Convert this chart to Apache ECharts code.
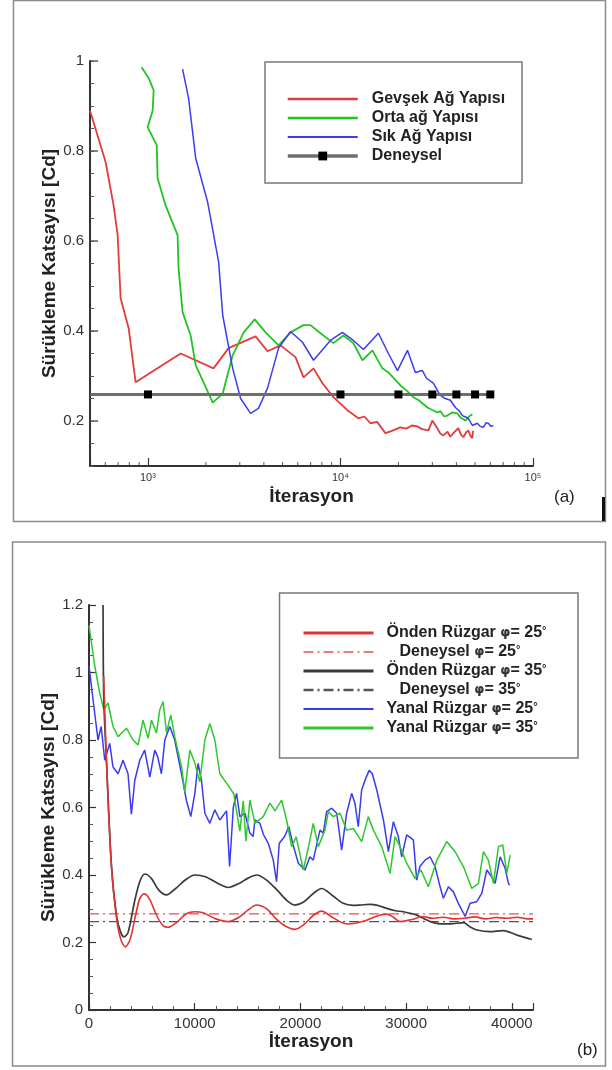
<!DOCTYPE html>
<html>
<head>
<meta charset="utf-8">
<style>
  html, body { margin: 0; padding: 0; background: #fff; }
  #chart { width: 612px; height: 1070px; }
</style>
<script src="https://cdn.jsdelivr.net/npm/echarts@6/dist/echarts.min.js"></script>
</head>
<body>
<div id="chart"></div>
<script>
// ---- panel (a): mesh study, log x axis ----
const gevsek = [
  [500,0.89],[603,0.775],[663,0.679],[696,0.613],[721,0.473],[794,0.406],[863,0.286],[1136,0.319],
  [1479,0.35],[2191,0.317],[2623,0.362],[3623,0.388],[4180,0.355],[4886,0.368],[5838,0.342],[6424,0.297],
  [7244,0.317],[8060,0.284],[9190,0.253],[10860,0.224],[12390,0.206],[13300,0.21],[14310,0.195],[15500,0.198],
  [17110,0.173],[18500,0.178],[20480,0.186],[22000,0.183],[23500,0.19],[25080,0.188],[26500,0.182],[28640,0.179],
  [30000,0.201],[31850,0.184],[33000,0.172],[34220,0.168],[36000,0.176],[37200,0.165],[38560,0.173],[40950,0.184],
  [42200,0.17],[43460,0.164],[45000,0.175],[46140,0.179],[47200,0.168],[48400,0.162],[48800,0.178]
];
const orta = [
  [927,0.986],[1012,0.961],[1071,0.935],[1058,0.89],[996,0.853],[1110,0.813],[1123,0.739],[1235,0.679],
  [1425,0.613],[1442,0.539],[1513,0.442],[1666,0.39],[1770,0.324],[2170,0.241],[2445,0.261],[2755,0.346],
  [3143,0.397],[3583,0.426],[4085,0.397],[4768,0.368],[5504,0.397],[6424,0.413],[6985,0.413],[7870,0.395],
  [9190,0.373],[10350,0.39],[11670,0.373],[13000,0.335],[14650,0.357],[16500,0.317],[17740,0.308],[20480,0.279],
  [22000,0.268],[23930,0.253],[25500,0.246],[28270,0.23],[29500,0.226],[31850,0.219],[33000,0.222],[34500,0.21],
  [35900,0.212],[38000,0.219],[40460,0.217],[42000,0.208],[44560,0.201],[46500,0.21],[48400,0.215]
];
const sik = [
  [1513,0.982],[1626,0.917],[1770,0.784],[2043,0.686],[2329,0.553],[2445,0.435],[2755,0.317],[3029,0.25],
  [3412,0.217],[3750,0.228],[4180,0.273],[4768,0.362],[5504,0.399],[6350,0.375],[7244,0.335],[8870,0.379],
  [10230,0.397],[11670,0.379],[13150,0.359],[15740,0.395],[17740,0.35],[19770,0.312],[22280,0.357],[24490,0.308],
  [26620,0.312],[28000,0.295],[30340,0.284],[33000,0.257],[35000,0.25],[37240,0.246],[39530,0.23],[41500,0.222],
  [42990,0.212],[46140,0.206],[48420,0.19],[51400,0.195],[53300,0.188],[55200,0.186],[57000,0.196],[58600,0.195],
  [60500,0.188],[62200,0.19]
];
const deneyselIter = [500, 1000, 10000, 20000, 30000, 40000, 50000, 60000];
const deneyselCd = 0.259;

// ---- panel (b): wind direction, linear x axis ----
const onden25 = [
  [1390,0.99],[1650,0.74],[2120,0.425],[2590,0.276],[3000,0.21],[3445,0.187],[3900,0.21],[4400,0.28],
  [4800,0.33],[5210,0.344],[5700,0.33],[6400,0.28],[7000,0.25],[7480,0.245],[8300,0.26],[9200,0.285],
  [10010,0.291],[10800,0.288],[12000,0.27],[13160,0.262],[14200,0.275],[15000,0.295],[15850,0.311],[16800,0.3],
  [17700,0.27],[18600,0.248],[19480,0.239],[20400,0.255],[21200,0.28],[22010,0.293],[23000,0.275],[24370,0.255],
  [25300,0.258],[26270,0.266],[27200,0.278],[28160,0.284],[28800,0.275],[29420,0.262],[30680,0.269],[31500,0.277],
  [32500,0.272],[33500,0.275],[34500,0.27],[35500,0.272],[36500,0.276],[37500,0.27],[38500,0.274],[39500,0.272],
  [40500,0.275],[41500,0.27],[42000,0.27]
];
const onden35 = [
  [1330,1.2],[1400,0.92],[1650,0.74],[2120,0.43],[2600,0.28],[3000,0.23],[3320,0.217],[3700,0.23],
  [4300,0.32],[4800,0.38],[5280,0.403],[5900,0.39],[6600,0.355],[7330,0.341],[8200,0.36],[9100,0.385],
  [10010,0.4],[11000,0.395],[12200,0.375],[13160,0.363],[14200,0.375],[15000,0.39],[15850,0.4],[16800,0.385],
  [17800,0.355],[18700,0.325],[19480,0.311],[20300,0.32],[21200,0.345],[22010,0.36],[23000,0.34],[24050,0.316],
  [25000,0.31],[25630,0.311],[26580,0.313],[27300,0.31],[28160,0.301],[29000,0.294],[29740,0.291],[31000,0.281],
  [32000,0.266],[32580,0.259],[33300,0.255],[34160,0.255],[35420,0.259],[36100,0.245],[36690,0.237],[37940,0.232],
  [39200,0.235],[40470,0.222],[41890,0.209]
];
const yanal25 = [
  [0,1.02],[380,0.92],[850,0.8],[1150,0.84],[1490,0.74],[1960,0.79],[2270,0.72],[2750,0.7],
  [3220,0.74],[3690,0.7],[4010,0.58],[4330,0.68],[4800,0.74],[5270,0.77],[5750,0.69],[6220,0.77],
  [6500,0.75],[6850,0.7],[7170,0.8],[7640,0.84],[8110,0.8],[8750,0.7],[9220,0.62],[9630,0.573],
  [10010,0.642],[10320,0.731],[10640,0.68],[10960,0.583],[11430,0.553],[11900,0.593],[12380,0.563],[13010,0.59],
  [13300,0.425],[13650,0.6],[13960,0.642],[14270,0.573],[14750,0.583],[15220,0.524],[15530,0.514],[15690,0.563],
  [16170,0.553],[16500,0.52],[16960,0.494],[17430,0.444],[17740,0.38],[18000,0.494],[18500,0.514],[18900,0.543],
  [19300,0.49],[19800,0.435],[20430,0.415],[20900,0.454],[21210,0.444],[21850,0.533],[22160,0.524],[22480,0.588],
  [22960,0.598],[23430,0.583],[23900,0.474],[24370,0.583],[24850,0.642],[25160,0.612],[25470,0.543],[25790,0.652],
  [26110,0.681],[26500,0.71],[26800,0.7],[27220,0.652],[27850,0.563],[28320,0.469],[28790,0.558],[29260,0.514],
  [29580,0.454],[30050,0.519],[30680,0.504],[31000,0.385],[31300,0.425],[31790,0.444],[32260,0.454],[32740,0.425],
  [33210,0.365],[33520,0.331],[34000,0.365],[34470,0.35],[34940,0.316],[35580,0.277],[36050,0.316],[36680,0.321],
  [37160,0.346],[37630,0.415],[38100,0.395],[38420,0.375],[38890,0.454],[39360,0.42],[39680,0.375],[39800,0.37]
];
const yanal35 = [
  [0,1.14],[540,1.02],[1010,0.94],[1400,0.89],[1800,0.91],[2270,0.84],[2750,0.81],[3540,0.835],
  [4170,0.8],[4640,0.785],[5110,0.859],[5590,0.805],[5910,0.859],[6380,0.82],[6690,0.889],[7010,0.914],
  [7330,0.822],[7740,0.874],[8110,0.81],[8750,0.721],[9060,0.647],[9540,0.77],[10010,0.732],[10480,0.676],
  [10960,0.8],[11430,0.849],[11900,0.8],[12380,0.7],[13320,0.658],[13700,0.64],[14270,0.53],[14590,0.62],
  [14840,0.5],[15220,0.622],[15690,0.553],[16480,0.573],[17110,0.613],[17600,0.59],[18220,0.622],[18690,0.563],
  [19170,0.484],[19600,0.513],[20270,0.415],[20700,0.474],[21210,0.553],[21690,0.484],[22320,0.533],[22640,0.588],
  [23110,0.573],[23750,0.583],[24370,0.533],[25000,0.538],[25790,0.499],[26420,0.573],[26900,0.533],[27690,0.484],
  [28480,0.405],[28950,0.514],[29420,0.484],[30050,0.435],[30840,0.39],[31400,0.415],[32100,0.365],[32900,0.444],
  [33840,0.499],[34630,0.469],[35420,0.425],[36210,0.36],[36840,0.375],[37310,0.469],[37780,0.444],[38260,0.375],
  [38730,0.484],[39140,0.489],[39520,0.405],[39840,0.459]
];
const deneysel25Cd = 0.285;
const deneysel35Cd = 0.262;
const iterMax = 42000;

const FONT = '"Liberation Sans", Arial, sans-serif';
const axisCol = '#333';
const supDigits = ['\u2070','\u00b9','\u00b2','\u00b3','\u2074','\u2075'];

const chart = echarts.init(document.getElementById('chart'), null, { renderer: 'canvas' });

function lineSeries(name, data, color, width, xi) {
  return {
    name: name, type: 'line', xAxisIndex: xi, yAxisIndex: xi, data: data,
    symbol: 'none', animation: false, silent: true,
    lineStyle: { color: color, width: width }, itemStyle: { color: color }
  };
}

const legendTextB = {
  fontFamily: FONT, fontSize: 16, fontWeight: 'bold', color: '#222', padding: [0, 0, 0, 8],
  rich: {
    b: { fontFamily: FONT, fontSize: 16, fontWeight: 'bold', color: '#222' },
    p: { fontFamily: '"DejaVu Sans"', fontSize: 13, color: '#333' },
    d: { fontFamily: FONT, fontSize: 11, fontWeight: 'bold', color: '#222', verticalAlign: 'top' },
    pad: { width: 13 }
  }
};

const yNameStyle = { fontFamily: FONT, fontSize: 19, fontWeight: 'bold', color: '#222' };

const option = {
  backgroundColor: '#fff',
  animation: false,
  grid: [
    { left: 90, top: 61, width: 443, height: 405 },
    { left: 89, top: 605, width: 444, height: 405 }
  ],
  xAxis: [
    {
      type: 'log', gridIndex: 0, logBase: 10, min: 500, max: 100000,
      name: 'İterasyon', nameLocation: 'middle', nameGap: 21,
      nameTextStyle: { fontFamily: FONT, fontSize: 19, fontWeight: 'bold', color: '#222' },
      axisLine: { lineStyle: { color: axisCol, width: 2 } },
      axisTick: { inside: true, length: 8, lineStyle: { color: axisCol, width: 1.2 } },
      splitLine: { show: false },
      axisLabel: {
        margin: 6, fontFamily: FONT, fontSize: 11, color: '#333',
        formatter: function (v) {
          const e = Math.log10(v);
          const r = Math.round(e);
          return Math.abs(e - r) < 1e-6 ? '10' + supDigits[r] : '';
        }
      }
    },
    {
      type: 'value', gridIndex: 1, min: 0, max: iterMax, interval: 10000,
      name: 'İterasyon', nameLocation: 'middle', nameGap: 20,
      nameTextStyle: { fontFamily: FONT, fontSize: 19, fontWeight: 'bold', color: '#222' },
      axisLine: { lineStyle: { color: axisCol, width: 2 } },
      axisTick: { inside: true, length: 7, lineStyle: { color: axisCol, width: 1.2 } },
      minorTick: { show: true, splitNumber: 5, length: 4, lineStyle: { color: '#555', width: 1 } },
      splitLine: { show: false },
      axisLabel: {
        margin: 6, fontFamily: FONT, fontSize: 15, color: '#333', showMaxLabel: false,
        formatter: function (v) { return String(v); }
      }
    }
  ],
  yAxis: [
    {
      type: 'value', gridIndex: 0, min: 0.1, max: 1, interval: 0.05,
      name: 'Sürükleme Katsayısı [Cd]', nameLocation: 'middle', nameGap: 31, nameRotate: 90,
      nameMoveOverlap: false,
      nameTextStyle: yNameStyle,
      axisLine: { lineStyle: { color: axisCol, width: 2 } },
      axisTick: { inside: true, length: 4, lineStyle: { color: '#555', width: 1 } },
      splitLine: { show: false },
      axisLabel: {
        margin: 6, fontFamily: FONT, fontSize: 15, color: '#333',
        formatter: function (v) {
          const q = v / 0.2;
          return Math.abs(q - Math.round(q)) < 1e-6 ? String(+v.toFixed(1)) : '';
        }
      }
    },
    {
      type: 'value', gridIndex: 1, min: 0, max: 1.2, interval: 0.2,
      name: 'Sürükleme Katsayısı [Cd]', nameLocation: 'middle', nameGap: 31, nameRotate: 90,
      nameMoveOverlap: false,
      nameTextStyle: yNameStyle,
      axisLine: { lineStyle: { color: axisCol, width: 2 } },
      axisTick: { inside: true, length: 7, lineStyle: { color: axisCol, width: 1.2 } },
      minorTick: { show: true, splitNumber: 4, length: 4, lineStyle: { color: '#555', width: 1 } },
      splitLine: { show: false },
      axisLabel: { margin: 6, fontFamily: FONT, fontSize: 15, color: '#333' }
    }
  ],
  legend: [
    {
      orient: 'vertical', left: 286, top: 91, padding: 0, itemWidth: 70, itemHeight: 11, itemGap: 3,
      selectedMode: false,
      textStyle: { fontFamily: FONT, fontSize: 16, fontWeight: 'bold', color: '#222', padding: [0, 0, 0, 9] },
      data: [
        { name: 'Gevşek Ağ Yapısı', itemStyle: { opacity: 0 }, lineStyle: { width: 2.5 } },
        { name: 'Orta ağ Yapısı', itemStyle: { opacity: 0 }, lineStyle: { width: 2.5 } },
        { name: 'Sık Ağ Yapısı', itemStyle: { opacity: 0 }, lineStyle: { width: 2 } },
        { name: 'Deneysel', lineStyle: { width: 3.5, color: '#6e6e6e' } }
      ]
    },
    {
      orient: 'vertical', left: 302, top: 625, padding: 0, itemWidth: 70, itemHeight: 11, itemGap: 3,
      selectedMode: false,
      textStyle: legendTextB,
      formatter: function (name) {
        const m = name.match(/^(.*) φ= (\d+)°$/);
        const pad = name.indexOf('Deneysel') === 0 ? '{pad| }' : '';
        return pad + '{b|' + m[1] + ' }{p|φ}{b|= ' + m[2] + '}{d|°}';
      },
      data: [
        { name: 'Önden Rüzgar φ= 25°', itemStyle: { opacity: 0 }, lineStyle: { width: 3 } },
        { name: 'Deneysel φ= 25°', itemStyle: { opacity: 0 }, lineStyle: { width: 1.5 } },
        { name: 'Önden Rüzgar φ= 35°', itemStyle: { opacity: 0 }, lineStyle: { width: 3 } },
        { name: 'Deneysel φ= 35°', itemStyle: { opacity: 0 }, lineStyle: { width: 2.5 } },
        { name: 'Yanal Rüzgar φ= 25°', itemStyle: { opacity: 0 }, lineStyle: { width: 2 } },
        { name: 'Yanal Rüzgar φ= 35°', itemStyle: { opacity: 0 }, lineStyle: { width: 3 } }
      ]
    }
  ],
  series: [
    lineSeries('Gevşek Ağ Yapısı', gevsek, '#e43c3c', 1.8, 0),
    lineSeries('Orta ağ Yapısı', orta, '#22c422', 1.8, 0),
    lineSeries('Sık Ağ Yapısı', sik, '#3c3cf0', 1.5, 0),
    {
      name: 'Deneysel', type: 'line', xAxisIndex: 0, yAxisIndex: 0, silent: true,
      data: deneyselIter.map(function (x, i) {
        return i === 0 ? { value: [x, deneyselCd], symbol: 'none' } : [x, deneyselCd];
      }),
      symbol: 'rect', symbolSize: 8, showAllSymbol: true,
      itemStyle: { color: '#000' },
      lineStyle: { color: '#6e6e6e', width: 3 }
    },
    lineSeries('Yanal Rüzgar φ= 25°', yanal25, '#3a3af0', 1.5, 1),
    lineSeries('Yanal Rüzgar φ= 35°', yanal35, '#2ec82e', 1.5, 1),
    {
      name: 'Deneysel φ= 25°', type: 'line', xAxisIndex: 1, yAxisIndex: 1, silent: true, symbol: 'none',
      data: [[0, deneysel25Cd], [iterMax, deneysel25Cd]],
      lineStyle: { color: '#e85050', width: 1.3, type: [10, 4, 2, 4] }, itemStyle: { color: '#e85050' }
    },
    {
      name: 'Deneysel φ= 35°', type: 'line', xAxisIndex: 1, yAxisIndex: 1, silent: true, symbol: 'none',
      data: [[0, deneysel35Cd], [iterMax, deneysel35Cd]],
      lineStyle: { color: '#555', width: 1.3, type: [10, 4, 2, 4] }, itemStyle: { color: '#555' }
    },
    Object.assign(lineSeries('Önden Rüzgar φ= 35°', onden35, '#3a3a3a', 1.7, 1), { smooth: 0.3 }),
    Object.assign(lineSeries('Önden Rüzgar φ= 25°', onden25, '#e03434', 1.6, 1), { smooth: 0.3 })
  ]
};

chart.setOption(option);

// frames, panel tags, legend boxes and extra axis ticks
const g = [];
g.push({ type: 'rect', silent: true, shape: { x: 13.5, y: 0.5, width: 592, height: 521 },
  style: { fill: 'none', stroke: '#8c8c8c', lineWidth: 1.5 } });
g.push({ type: 'rect', silent: true, shape: { x: 12.5, y: 542, width: 593, height: 524 },
  style: { fill: 'none', stroke: '#8c8c8c', lineWidth: 1.5 } });
g.push({ type: 'rect', silent: true, shape: { x: 602, y: 497, width: 3, height: 24 }, style: { fill: '#111' } });
g.push({ type: 'rect', silent: true, shape: { x: 265, y: 62, width: 257, height: 121 },
  style: { fill: 'none', stroke: '#7a7a7a', lineWidth: 1.5 } });
g.push({ type: 'rect', silent: true, shape: { x: 279.5, y: 593, width: 298.5, height: 165 },
  style: { fill: 'none', stroke: '#7a7a7a', lineWidth: 1.5 } });
g.push({ type: 'text', silent: true, left: 554, top: 489,
  style: { text: '(a)', fontFamily: FONT, fontSize: 17, fill: '#222' } });
g.push({ type: 'text', silent: true, left: 577, top: 1042,
  style: { text: '(b)', fontFamily: FONT, fontSize: 17, fill: '#222' } });

const xAxisPy = chart.convertToPixel({ yAxisIndex: 0 }, 0.1);
for (let d = 100; d < 100000; d *= 10) {
  for (let k = 2; k <= 9; k++) {
    const v = d * k;
    if (v <= 500 || v >= 100000) continue;
    const px = chart.convertToPixel({ xAxisIndex: 0 }, v);
    g.push({ type: 'line', silent: true, shape: { x1: px, y1: xAxisPy, x2: px, y2: xAxisPy - 4 },
      style: { stroke: '#555', lineWidth: 1 } });
  }
}
const yAxisPx = chart.convertToPixel({ xAxisIndex: 0 }, 500);
[0.2, 0.4, 0.6, 0.8, 1.0].forEach(function (v) {
  const py = chart.convertToPixel({ yAxisIndex: 0 }, v);
  g.push({ type: 'line', silent: true, shape: { x1: yAxisPx, y1: py, x2: yAxisPx + 8, y2: py },
    style: { stroke: axisCol, lineWidth: 1.2 } });
});
chart.setOption({ graphic: g });
</script>
</body>
</html>
